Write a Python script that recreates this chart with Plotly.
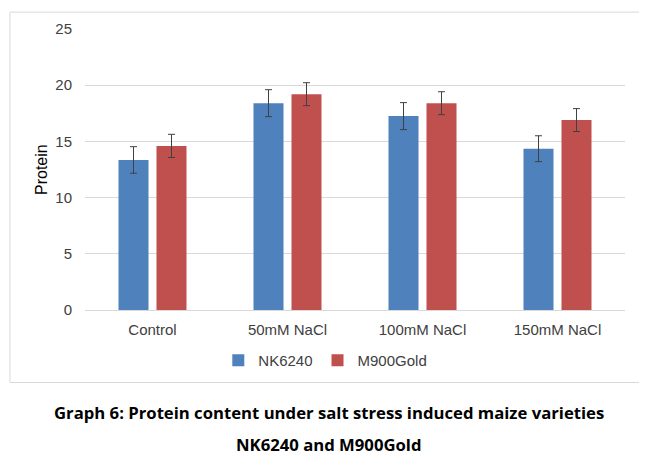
import plotly.graph_objects as go

categories = ["Control", "50mM NaCl", "100mM NaCl", "150mM NaCl"]
nk6240 = [13.35, 18.4, 17.25, 14.35]
nk6240_err = [1.18, 1.2, 1.2, 1.15]
m900gold = [14.6, 19.2, 18.4, 16.9]
m900gold_err = [1.03, 1.02, 1.02, 1.02]
y_ticks = [0, 5, 10, 15, 20, 25]

font_main = "Liberation Sans, Arial, sans-serif"

fig = go.Figure()
fig.add_trace(go.Bar(
    name="NK6240", x=categories, y=nk6240,
    marker=dict(color="#4F81BD", line=dict(width=0)),
    error_y=dict(type="data", array=nk6240_err, color="#404040", thickness=1, width=3.5),
))
fig.add_trace(go.Bar(
    name="M900Gold", x=categories, y=m900gold,
    marker=dict(color="#C0504D", line=dict(width=0)),
    error_y=dict(type="data", array=m900gold_err, color="#404040", thickness=1, width=3.5),
))

fig.update_layout(
    width=639, height=456,
    margin=dict(l=77, r=22, t=19, b=154),
    paper_bgcolor="white", plot_bgcolor="white",
    barmode="group", bargap=0.437, bargroupgap=0.21,
    font=dict(family=font_main, size=15, color="#404040"),
    showlegend=True,
    legend=dict(orientation="h", x=0.445, xanchor="center", y=-0.18, yanchor="middle",
                font=dict(size=15, color="#404040"), itemwidth=30, traceorder="normal"),
    xaxis=dict(showgrid=False, showline=True, linecolor="#d9d9d9", linewidth=1,
               ticks="", ticklabelstandoff=6, tickfont=dict(size=15, color="#404040")),
    yaxis=dict(range=[0, 25], tickvals=y_ticks, showgrid=True, gridcolor="#d9d9d9",
               gridwidth=1, zeroline=False, showline=False, ticks="",
               ticklabelstandoff=12, tickfont=dict(size=15, color="#404040")),
    shapes=[dict(type="rect", xref="paper", yref="paper",
                 x0=-0.139, x1=1.0296, y0=-0.258, y1=1.060,
                 line=dict(color="#d9d9d9", width=1), fillcolor="rgba(0,0,0,0)", layer="below")],
    annotations=[
        dict(text="Protein", xref="paper", yref="paper", x=-0.0806, y=0.5,
             textangle=-90, showarrow=False, font=dict(size=16, color="#000000"),
             xanchor="center", yanchor="middle"),
        dict(text="<b>Graph 6: Protein content under salt stress induced maize varieties</b>",
             xref="paper", yref="paper", x=0.452, y=-0.364, showarrow=False,
             xanchor="center", yanchor="middle",
             font=dict(family="Open Sans, sans-serif", size=16.7, color="#000000")),
        dict(text="<b>NK6240 and M900Gold</b>",
             xref="paper", yref="paper", x=0.452, y=-0.48, showarrow=False,
             xanchor="center", yanchor="middle",
             font=dict(family="Open Sans, sans-serif", size=16.7, color="#000000")),
    ],
)

fig.write_html("out.html")
